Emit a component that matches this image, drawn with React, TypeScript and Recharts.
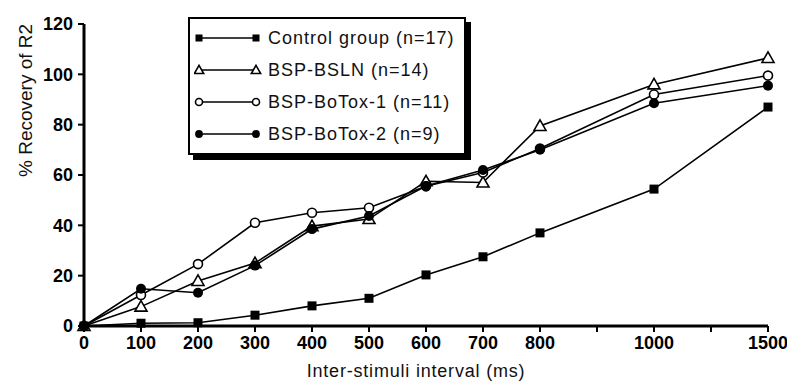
import { Legend, Line, LineChart, XAxis, YAxis } from "recharts";

// interval categories (ms) and where they sit on the axis (900 and 1200 are unlabeled ticks)
const intervals = ["0", "100", "200", "300", "400", "500", "600", "700", "800", "1000", "1500"];
const axisSlots = [0, 1, 2, 3, 4, 5, 6, 7, 8, 10, 12];
const axisTicks = [0, 1, 2, 3, 4, 5, 6, 7, 8, 9, 10, 11, 12];
const yTicks = [0, 20, 40, 60, 80, 100, 120];

const control = [0, 1.1, 1.3, 4.3, 8, 11, 20.3, 27.5, 37, 54.4, 87];
const bsln = [0, 7.7, 17.9, 25, 39.7, 42.5, 57.5, 57, 79.5, 96, 106.5];
const botox1 = [0, 12.3, 24.6, 41, 45, 47, 55.5, 61, 70.5, 92, 99.5];
const botox2 = [0, 14.8, 13.2, 24, 38.5, 43.7, 55.6, 62, 70, 88.5, 95.5];

const data = intervals.map((label, i) => ({
  slot: axisSlots[i],
  label,
  control: control[i],
  bsln: bsln[i],
  botox1: botox1[i],
  botox2: botox2[i],
}));

type Shape = "square" | "triangle" | "circle" | "dot";

const series: { key: string; name: string; shape: Shape }[] = [
  { key: "control", name: "Control group (n=17)", shape: "square" },
  { key: "bsln", name: "BSP-BSLN (n=14)", shape: "triangle" },
  { key: "botox1", name: "BSP-BoTox-1 (n=11)", shape: "circle" },
  { key: "botox2", name: "BSP-BoTox-2 (n=9)", shape: "dot" },
];

function Marker({ shape, cx, cy, s = 1 }: { shape: Shape; cx: number; cy: number; s?: number }) {
  if (shape === "square")
    return <rect x={cx - 4.5 * s} y={cy - 4.5 * s} width={9 * s} height={9 * s} fill="#000" />;
  if (shape === "triangle")
    return (
      <path
        d={`M${cx},${cy - 6 * s} L${cx + 6 * s},${cy + 4.5 * s} L${cx - 6 * s},${cy + 4.5 * s} Z`}
        fill="#fff"
        stroke="#000"
        strokeWidth={1.6}
      />
    );
  if (shape === "circle")
    return <circle cx={cx} cy={cy} r={4.5 * s} fill="#fff" stroke="#000" strokeWidth={1.6} />;
  return <circle cx={cx} cy={cy} r={5 * s} fill="#000" />;
}

const slotLabel = (v: number) => {
  const i = axisSlots.indexOf(v);
  return i >= 0 ? intervals[i] : "";
};

function LegendBox() {
  return (
    <div
      style={{
        border: "2.5px solid #000",
        boxShadow: "5px 5px 0 #000",
        background: "#fff",
        padding: "3px 0 3px 4px",
        fontFamily: "'Liberation Sans', Arial, sans-serif",
        fontSize: 18,
        color: "#111",
      }}
    >
      {series.map((s) => (
        <div key={s.key} style={{ display: "flex", alignItems: "center", height: 32 }}>
          <svg width={68} height={16} style={{ marginRight: 6 }}>
            <line x1={5} y1={8} x2={62} y2={8} stroke="#000" strokeWidth={1.5} />
            <Marker shape={s.shape} cx={5} cy={8} s={0.78} />
            <Marker shape={s.shape} cx={62} cy={8} s={0.78} />
          </svg>
          <span style={{ letterSpacing: 1 }}>{s.name}</span>
        </div>
      ))}
    </div>
  );
}

export default function App() {
  return (
    <div style={{ position: "absolute", left: 0, top: 0, background: "#fff" }}>
      <LineChart
        width={787}
        height={383}
        data={data}
        margin={{ top: 24, right: 19, bottom: 4, left: 0 }}
        style={{ fontFamily: "'Liberation Sans', Arial, sans-serif" }}
      >
        <XAxis
          dataKey="slot"
          type="number"
          domain={[0, 12]}
          ticks={axisTicks}
          tickFormatter={slotLabel}
          interval={0}
          height={53}
          stroke="#000"
          axisLine={{ strokeWidth: 3 }}
          tickLine={{ strokeWidth: 2 }}
          tickSize={6}
          tickMargin={4}
          tick={{ fontSize: 18, fontWeight: 700, fill: "#000" }}
          label={{
            value: "Inter-stimuli interval (ms)",
            position: "insideBottom",
            offset: 2,
            fontSize: 18,
            fill: "#111",
            letterSpacing: 0.8,
            dx: -10,
          }}
        />
        <YAxis
          domain={[0, 120]}
          ticks={yTicks}
          width={84}
          stroke="#000"
          axisLine={{ strokeWidth: 3 }}
          tickLine={{ strokeWidth: 2 }}
          tickSize={6}
          tickMargin={5}
          tick={{ fontSize: 18, fontWeight: 700, fill: "#000" }}
          label={{
            value: "% Recovery of R2",
            angle: -90,
            position: "insideLeft",
            offset: 25,
            fontSize: 19,
            fill: "#111",
            dy: 2,
          }}
        />
        <Legend
          layout="vertical"
          align="center"
          verticalAlign="middle"
          content={() => <LegendBox />}
          wrapperStyle={{ left: 188, top: 17, width: 278 }}
        />
        {series.map((s) => (
          <Line
            key={s.key}
            dataKey={s.key}
            name={s.name}
            type="linear"
            stroke="#000"
            strokeWidth={1.6}
            isAnimationActive={false}
            dot={(p: any) => <Marker key={`${s.key}-${p.index}`} shape={s.shape} cx={p.cx} cy={p.cy} />}
            activeDot={false}
          />
        ))}
      </LineChart>
    </div>
  );
}
